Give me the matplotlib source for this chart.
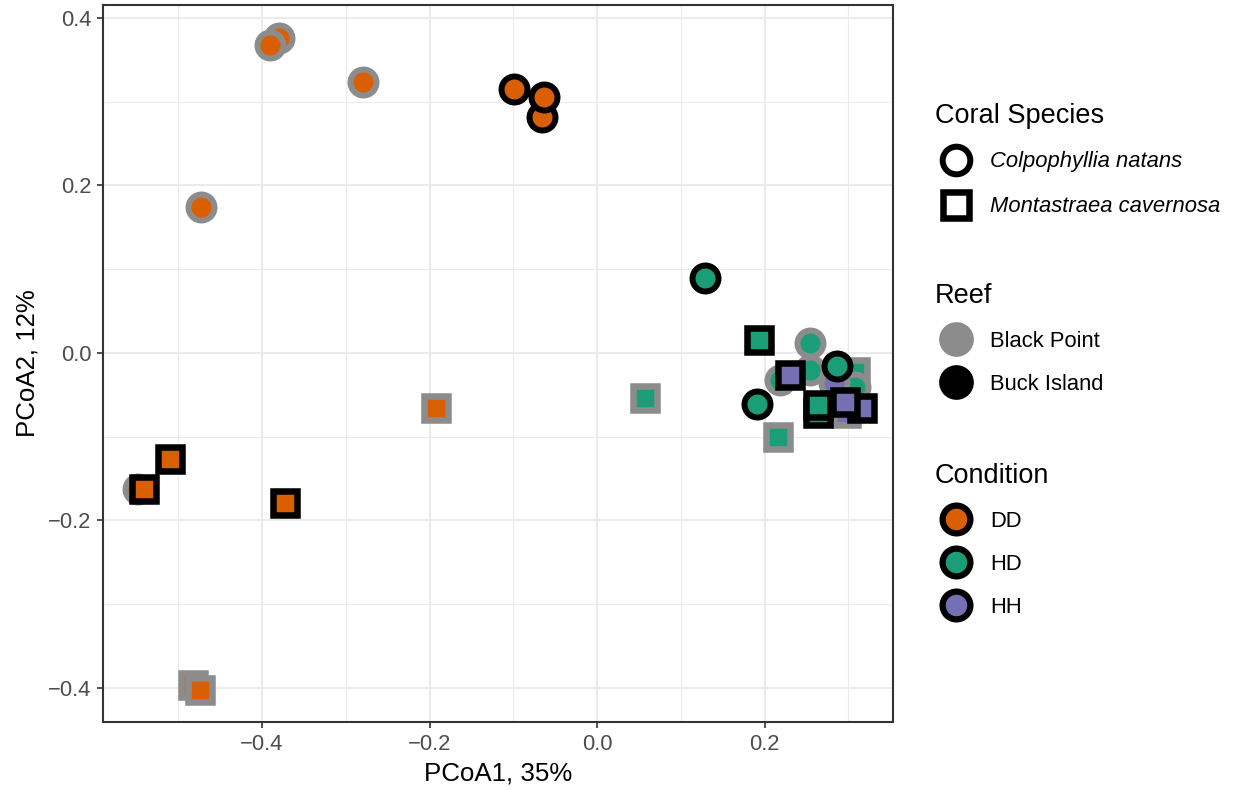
import numpy as np
import matplotlib
matplotlib.use("Agg")
import matplotlib.pyplot as plt
from matplotlib.lines import Line2D
from matplotlib.ticker import MultipleLocator, FuncFormatter

plt.rcParams['font.family'] = ['Liberation Sans', 'DejaVu Sans']

# PCoA scores, one entry per sample
pc1 = [-0.380, -0.390, -0.279, -0.473, -0.548,
       -0.192, -0.482, -0.474,
       0.057, 0.216, 0.308,
       0.254, 0.219, 0.254, 0.308,
       0.283, 0.297,
       -0.099, -0.066, -0.063,
       -0.541, -0.510, -0.373,
       0.129, 0.191, 0.287,
       0.193, 0.264, 0.264,
       0.230, 0.316, 0.296]
pc2 = [0.376, 0.368, 0.324, 0.174, -0.163,
       -0.066, -0.396, -0.402,
       -0.054, -0.100, -0.023,
       0.012, -0.032, -0.020, -0.041,
       -0.036, -0.072,
       0.315, 0.282, 0.306,
       -0.162, -0.127, -0.179,
       0.090, -0.061, -0.016,
       0.016, -0.072, -0.062,
       -0.026, -0.066, -0.058]
species = ['C', 'C', 'C', 'C', 'C',
           'M', 'M', 'M',
           'M', 'M', 'M',
           'C', 'C', 'C', 'C',
           'C', 'M',
           'C', 'C', 'C',
           'M', 'M', 'M',
           'C', 'C', 'C',
           'M', 'M', 'M',
           'M', 'M', 'M']
reef = ['BP'] * 17 + ['BI'] * 15
condition = ['DD', 'DD', 'DD', 'DD', 'DD',
             'DD', 'DD', 'DD',
             'HD', 'HD', 'HD',
             'HD', 'HD', 'HD', 'HD',
             'HH', 'HH',
             'DD', 'DD', 'DD',
             'DD', 'DD', 'DD',
             'HD', 'HD', 'HD',
             'HD', 'HD', 'HD',
             'HH', 'HH', 'HH']

species_names = {'C': 'Colpophyllia natans', 'M': 'Montastraea cavernosa'}
reef_names = {'BP': 'Black Point', 'BI': 'Buck Island'}
cond_levels = ['DD', 'HD', 'HH']

cond_col = {'DD': '#D95F02', 'HD': '#1B9E77', 'HH': '#7570B3'}
reef_col = {'BP': '#8C8C8C', 'BI': '#000000'}
shape = {'C': 'o', 'M': 's'}
msize = {'C': 18.7, 'M': 17.6}
mew = {'C': 4.3, 'M': 4.7}

fig = plt.figure(figsize=(12.38, 7.9), dpi=100)
ax = fig.add_axes([0.0832, 0.0861, 0.6381, 0.9076])

for x, y, sp, rf, cd in zip(pc1, pc2, species, reef, condition):
    ax.plot(x, y, linestyle='none', marker=shape[sp], ms=msize[sp],
            mfc=cond_col[cd], mec=reef_col[rf], mew=mew[sp], zorder=3)

fmt = FuncFormatter(lambda v, pos: f'{v:.1f}'.replace('-', '\u2212'))
ax.set_xlim(-0.590, 0.3534)
ax.set_ylim(-0.4406, 0.4155)
ax.xaxis.set_major_locator(MultipleLocator(0.2))
ax.yaxis.set_major_locator(MultipleLocator(0.2))
ax.xaxis.set_minor_locator(MultipleLocator(0.1))
ax.yaxis.set_minor_locator(MultipleLocator(0.1))
ax.xaxis.set_major_formatter(fmt)
ax.yaxis.set_major_formatter(fmt)
ax.grid(which='major', color='#EBEBEB', lw=1.5, zorder=0)
ax.grid(which='minor', color='#EBEBEB', lw=0.8, zorder=0)
ax.set_axisbelow(True)
ax.tick_params(which='major', length=4.5, width=1.2, color='#333333',
               labelcolor='#4D4D4D', labelsize=15.8, pad=4)
ax.tick_params(which='minor', length=0)
for s in ax.spines.values():
    s.set_color('#333333')
    s.set_linewidth(1.5)
ax.set_xlabel('PCoA1, 35%', fontsize=18.6, labelpad=5)
ax.set_ylabel('PCoA2, 12%', fontsize=18.6, labelpad=6)

# three stacked legends on the right
leg_kw = dict(loc='upper left', frameon=False, fontsize=15.8, title_fontsize=19.5,
              alignment='left', borderpad=0, handlelength=1.9, handletextpad=0.6,
              borderaxespad=0)

h_sp = [Line2D([], [], ls='none', marker=shape[k], ms=msize[k] + 1.2, mfc='white',
               mec='black', mew=mew[k]) for k in ['C', 'M']]
l1 = fig.legend(h_sp, [species_names[k] for k in ['C', 'M']], title='Coral Species',
                bbox_to_anchor=(935 / 1238, 1 - 103 / 790), labelspacing=1.1, **leg_kw)
l1._legend_box.sep = 16
for t in l1.get_texts():
    t.set_fontstyle('italic')

h_rf = [Line2D([], [], ls='none', marker='o', ms=25, mfc=reef_col[k],
               mec=reef_col[k], mew=0) for k in ['BP', 'BI']]
fig.legend(h_rf, [reef_names[k] for k in ['BP', 'BI']], title='Reef',
           bbox_to_anchor=(935 / 1238, 1 - 283 / 790), labelspacing=1.0, **leg_kw)

h_cd = [Line2D([], [], ls='none', marker='o', ms=20, mfc=cond_col[k],
               mec='black', mew=4.5) for k in cond_levels]
fig.legend(h_cd, cond_levels, title='Condition',
           bbox_to_anchor=(935 / 1238, 1 - 463 / 790), labelspacing=1.0, **leg_kw)

fig.savefig('out.png', dpi=100)
